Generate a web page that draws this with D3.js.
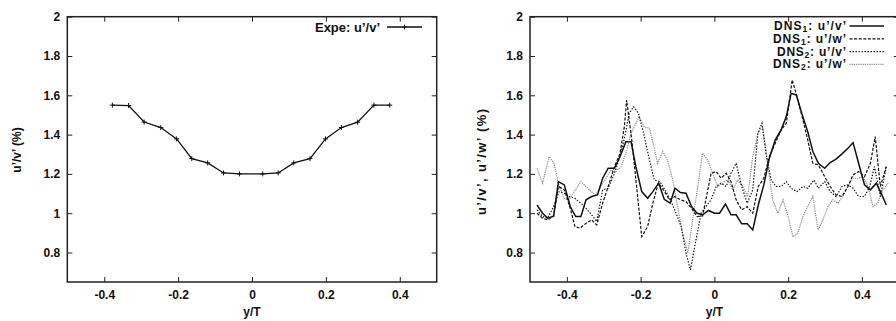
<!DOCTYPE html>
<html><head><meta charset="utf-8">
<script src="https://cdn.jsdelivr.net/npm/d3@7"></script>
<style>
body{margin:0;background:#fff}
svg text{font-family:"Liberation Sans",Arial,Helvetica,sans-serif;font-weight:bold;font-size:12px;fill:#111}
</style>
</head><body>
<svg id="c" width="896" height="321"></svg>
<script>
// ---- data ----
const xTicks = [-0.4, -0.2, 0, 0.2, 0.4];
const yTicks = [0.8, 1, 1.2, 1.4, 1.6, 1.8, 2];
const xDomain = [-0.5, 0.5];
const yDomain = [0.65, 2];

const expeX = [-0.378,-0.334,-0.292,-0.247,-0.204,-0.163,-0.12,-0.077,-0.034,0.029,0.071,0.113,0.157,0.199,0.242,0.286,0.33,0.373];
const expeY = [1.55,1.548,1.464,1.436,1.378,1.278,1.256,1.205,1.2,1.2,1.205,1.256,1.278,1.378,1.436,1.463,1.55,1.55];

const dns1UV = [[-0.481,1.042],[-0.466,1.0],[-0.452,0.975],[-0.436,0.985],[-0.423,1.161],[-0.407,1.144],[-0.391,1.034],[-0.376,0.983],[-0.362,0.983],[-0.348,1.068],[-0.333,1.085],[-0.317,1.093],[-0.303,1.178],[-0.288,1.229],[-0.271,1.229],[-0.256,1.288],[-0.240,1.364],[-0.226,1.364],[-0.213,1.237],[-0.197,1.110],[-0.181,1.076],[-0.167,1.110],[-0.151,1.153],[-0.136,1.071],[-0.120,1.051],[-0.107,1.127],[-0.092,1.105],[-0.077,1.102],[-0.062,1.034],[-0.047,1.0],[-0.032,0.992],[-0.016,1.014],[0,1.0],[0.014,1.0],[0.030,1.047],[0.045,0.992],[0.059,0.992],[0.074,0.946],[0.089,0.946],[0.104,0.915],[0.119,1.042],[0.134,1.144],[0.149,1.280],[0.165,1.373],[0.181,1.424],[0.195,1.492],[0.208,1.610],[0.222,1.602],[0.237,1.508],[0.253,1.415],[0.267,1.314],[0.282,1.254],[0.299,1.229],[0.314,1.258],[0.330,1.275],[0.346,1.302],[0.362,1.331],[0.376,1.359],[0.391,1.254],[0.407,1.144],[0.423,1.119],[0.439,1.153],[0.452,1.102],[0.466,1.042]];

const dns1UW = [[-0.481,1.0],[-0.466,0.975],[-0.452,0.966],[-0.436,0.986],[-0.423,1.136],[-0.407,1.119],[-0.391,1.025],[-0.378,0.932],[-0.364,0.924],[-0.348,0.949],[-0.333,0.966],[-0.319,0.941],[-0.303,1.051],[-0.288,1.136],[-0.271,1.237],[-0.256,1.305],[-0.244,1.441],[-0.238,1.576],[-0.224,1.373],[-0.211,1.136],[-0.197,0.881],[-0.181,0.932],[-0.167,1.051],[-0.152,1.153],[-0.138,1.119],[-0.122,1.068],[-0.107,1.085],[-0.092,1.068],[-0.077,1.059],[-0.062,1.025],[-0.047,0.983],[-0.032,0.986],[-0.016,1.136],[-0.009,1.203],[0.005,1.212],[0.018,1.178],[0.032,1.203],[0.045,1.161],[0.059,1.068],[0.074,1.017],[0.089,1.034],[0.104,1.0],[0.119,1.136],[0.134,1.178],[0.149,1.288],[0.165,1.356],[0.181,1.424],[0.195,1.458],[0.211,1.678],[0.224,1.593],[0.240,1.475],[0.253,1.373],[0.267,1.254],[0.282,1.246],[0.299,1.186],[0.314,1.136],[0.330,1.093],[0.346,1.085],[0.362,1.136],[0.376,1.195],[0.391,1.212],[0.407,1.186],[0.423,1.254],[0.436,1.390],[0.450,1.136],[0.466,1.237]];

const dns2UV = [[-0.481,1.017],[-0.466,0.983],[-0.452,0.975],[-0.436,1.034],[-0.421,1.110],[-0.407,1.102],[-0.394,1.085],[-0.378,1.076],[-0.362,1.051],[-0.348,1.025],[-0.333,0.992],[-0.319,0.958],[-0.303,1.119],[-0.288,1.127],[-0.271,1.203],[-0.256,1.288],[-0.243,1.390],[-0.231,1.508],[-0.219,1.542],[-0.206,1.508],[-0.192,1.407],[-0.176,1.271],[-0.163,1.169],[-0.148,1.161],[-0.134,1.119],[-0.119,1.068],[-0.104,1.0],[-0.090,0.932],[-0.077,0.797],[-0.065,0.712],[-0.050,0.864],[-0.036,1.0],[-0.023,1.034],[-0.009,1.068],[0.005,1.136],[0.018,1.153],[0.032,1.136],[0.045,1.203],[0.059,1.254],[0.074,1.136],[0.089,1.051],[0.104,1.119],[0.118,1.407],[0.129,1.458],[0.140,1.305],[0.154,1.169],[0.167,1.136],[0.181,1.136],[0.195,1.161],[0.208,1.127],[0.224,1.110],[0.240,1.136],[0.253,1.127],[0.270,1.169],[0.282,1.127],[0.299,1.161],[0.314,1.110],[0.330,1.085],[0.346,1.136],[0.362,1.144],[0.376,1.127],[0.391,1.085],[0.407,1.085],[0.421,1.136],[0.434,1.237],[0.450,1.085],[0.466,1.237]];

const dns2UW = [[-0.481,1.229],[-0.466,1.153],[-0.448,1.288],[-0.435,1.254],[-0.421,1.136],[-0.407,1.076],[-0.394,1.068],[-0.380,1.110],[-0.362,1.161],[-0.348,1.136],[-0.335,1.110],[-0.321,1.093],[-0.308,1.136],[-0.294,1.178],[-0.281,1.220],[-0.267,1.212],[-0.253,1.237],[-0.240,1.305],[-0.226,1.407],[-0.213,1.458],[-0.204,1.490],[-0.190,1.440],[-0.176,1.432],[-0.163,1.330],[-0.154,1.254],[-0.140,1.314],[-0.127,1.270],[-0.113,1.170],[-0.100,1.034],[-0.086,0.898],[-0.072,0.797],[-0.059,0.966],[-0.045,1.136],[-0.032,1.305],[-0.018,1.270],[-0.005,1.203],[0.009,1.136],[0.023,1.153],[0.036,1.170],[0.050,1.120],[0.063,1.170],[0.077,1.136],[0.090,1.085],[0.104,1.288],[0.118,1.407],[0.131,1.440],[0.145,1.237],[0.158,1.068],[0.172,1.0],[0.186,1.068],[0.200,0.983],[0.213,0.880],[0.226,0.898],[0.240,0.983],[0.253,1.034],[0.267,1.085],[0.281,0.915],[0.294,0.966],[0.308,1.034],[0.321,1.068],[0.335,1.051],[0.348,1.085],[0.362,1.136],[0.376,1.178],[0.389,1.178],[0.403,1.186],[0.416,1.136],[0.430,1.034],[0.443,1.051],[0.457,1.120],[0.471,1.153]];

const leftYLabel = "u’/v’ (%)";
const rightYLabel = "u’/v’, u’/w’ (%)";
const xLabel = "y/T";

// ---- drawing ----
const svg = d3.select("#c");
const TOP = 16.7, BOT = 282;
const fmt = d => String(+(+d).toFixed(1));

function panel(x0, x1, yLab, yLabX, yLabY, yLabLen, yLabSize) {
  const x = d3.scaleLinear().domain(xDomain).range([x0, x1]);
  const y = d3.scaleLinear().domain(yDomain).range([BOT, TOP]);
  const g = svg.append("g");
  const style = sel => { sel.attr("font-size", null).attr("font-family", null).style("color", "#222");
    sel.select(".domain").remove(); sel.selectAll(".tick line").attr("stroke-width", 1); };
  g.append("g").attr("transform", `translate(0,${BOT})`)
    .call(d3.axisBottom(x).tickValues(xTicks).tickSize(-5).tickPadding(8).tickFormat(fmt)).call(style);
  g.append("g").attr("transform", `translate(0,${TOP})`)
    .call(d3.axisTop(x).tickValues(xTicks).tickSize(-5).tickFormat("")).call(style);
  g.append("g").attr("transform", `translate(${x0},0)`)
    .call(d3.axisLeft(y).tickValues(yTicks).tickSize(-5).tickPadding(7).tickFormat(fmt)).call(style);
  g.append("g").attr("transform", `translate(${x1},0)`)
    .call(d3.axisRight(y).tickValues(yTicks).tickSize(-5).tickFormat("")).call(style);
  g.append("rect").attr("x", x0).attr("y", TOP).attr("width", x1 - x0).attr("height", BOT - TOP)
    .attr("fill", "none").attr("stroke", "#222").attr("stroke-width", 1.5);
  g.append("text").attr("x", x(0)).attr("y", 316)
    .attr("text-anchor", "middle").text(xLabel);
  const yl = g.append("text").attr("transform", `translate(${yLabX},${yLabY}) rotate(-90)`)
    .attr("text-anchor", "middle").attr("dy", "0.35em").style("font-size", yLabSize + "px").text(yLab);
  if (yLabLen) yl.attr("textLength", yLabLen).attr("lengthAdjust", "spacing");
  return { g, x, y };
}

// Left panel
const L = panel(67.3, 436.7, leftYLabel, 17, 150, null, 12);
const lineL = d3.line().x(d => L.x(d[0])).y(d => L.y(d[1]));
const expe = expeX.map((v, i) => [v, expeY[i]]);
L.g.append("path").datum(expe).attr("d", lineL).attr("fill", "none").attr("stroke", "#111").attr("stroke-width", 1.3);
const plus = (g, cx, cy) => {
  g.append("path").attr("d", `M${cx - 2.5},${cy}H${cx + 2.5}M${cx},${cy - 2.5}V${cy + 2.5}`)
    .attr("stroke", "#111").attr("stroke-width", 1);
};
expe.forEach(d => plus(L.g, L.x(d[0]), L.y(d[1])));
// legend
L.g.append("text").attr("x", 380).attr("y", 31.5).attr("text-anchor", "end")
  .style("font-size", "13px").text("Expe: u’/v’");
L.g.append("line").attr("x1", 387).attr("x2", 422).attr("y1", 27).attr("y2", 27).attr("stroke", "#111").attr("stroke-width", 1.3);
plus(L.g, 404.5, 27);

// Right panel
const R = panel(530, 898.8, rightYLabel, 481, 162, 106, 13);
const lineR = d3.line().x(d => R.x(d[0])).y(d => R.y(d[1]));
const series = [
  { name: ["DNS", "1", ": u’/v’"], data: dns1UV, color: "#111", w: 1.5, dash: null, len: 72 },
  { name: ["DNS", "1", ": u’/w’"], data: dns1UW, color: "#111", w: 1.2, dash: "3,1.6", len: 73 },
  { name: ["DNS", "2", ": u’/v’"], data: dns2UV, color: "#111", w: 1.2, dash: "1.4,1.6", len: 69 },
  { name: ["DNS", "2", ": u’/w’"], data: dns2UW, color: "#8c8c8c", w: 1.2, dash: "1.2,1", len: 73 }
];
series.slice().reverse().forEach(s => {
  R.g.append("path").datum(s.data).attr("d", lineR).attr("fill", "none")
    .attr("stroke", s.color).attr("stroke-width", s.w).attr("stroke-dasharray", s.dash);
});
series.forEach((s, i) => {
  const yy = 26 + i * 12.8;
  const t = R.g.append("text").attr("x", 846 - s.len).attr("y", yy + 4).attr("text-anchor", "start")
    .style("font-size", "12px").attr("textLength", s.len).attr("lengthAdjust", "spacing");
  t.append("tspan").text(s.name[0]);
  t.append("tspan").attr("dy", 2).style("font-size", "8.5px").text(s.name[1]);
  t.append("tspan").attr("dy", -2).text(s.name[2]);
  R.g.append("line").attr("x1", 849.5).attr("x2", 884).attr("y1", yy).attr("y2", yy)
    .attr("stroke", s.color).attr("stroke-width", s.w).attr("stroke-dasharray", s.dash);
});
</script>
</body></html>
